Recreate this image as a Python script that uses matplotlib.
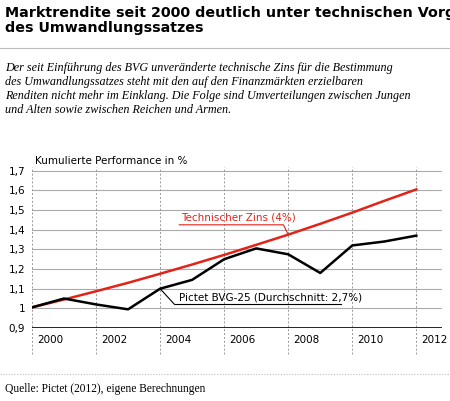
import matplotlib
matplotlib.use("Agg")
import matplotlib.pyplot as plt
from matplotlib.lines import Line2D

years = list(range(2000, 2013))
pictet = [1.005, 1.05, 1.02, 0.995, 1.10, 1.145, 1.25, 1.305, 1.275, 1.18, 1.32, 1.34, 1.37]
techzins = [1.005, 1.045, 1.087, 1.13, 1.176, 1.223, 1.272, 1.323, 1.375, 1.43, 1.487, 1.547, 1.605]
yticks = [0.9, 1.0, 1.1, 1.2, 1.3, 1.4, 1.5, 1.6, 1.7]
ytick_labels = ["0,9", "1", "1,1", "1,2", "1,3", "1,4", "1,5", "1,6", "1,7"]
xticks = [2000, 2002, 2004, 2006, 2008, 2010, 2012]

NARROW = ["DejaVu Sans"]
SERIF = ["Liberation Serif", "DejaVu Serif"]

fig = plt.figure(figsize=(4.5, 4.01), dpi=100)
fig.patch.set_facecolor("white")

fig.text(0.012, 0.985, "Marktrendite seit 2000 deutlich unter technischen Vorgaben\ndes Umwandlungssatzes",
         family=NARROW, weight="bold", fontsize=10.3, va="top", ha="left", linespacing=1.1)
fig.add_artist(Line2D([0.0, 1.0], [0.88, 0.88], color="#bbbbbb", lw=0.8))
fig.text(0.012, 0.845,
         "Der seit Einführung des BVG unveränderte technische Zins für die Bestimmung\n"
         "des Umwandlungssatzes steht mit den auf den Finanzmärkten erzielbaren\n"
         "Renditen nicht mehr im Einklang. Die Folge sind Umverteilungen zwischen Jungen\n"
         "und Alten sowie zwischen Reichen und Armen.",
         family=SERIF, style="italic", fontsize=8.7, va="top", ha="left", linespacing=1.2)

ax = fig.add_axes([0.0711, 0.182, 0.911, 0.402])
ax.set_xlim(2000, 2012.8)
ax.set_ylim(0.9, 1.72)

for y in yticks[1:]:
    ax.axhline(y, color="#aaaaaa", lw=0.8, zorder=1)
ax.axhline(0.9, color="black", lw=1.2, zorder=3)
for x in xticks:
    ax.plot([x, x], [0.77, 1.72], color="#999999", lw=0.7, ls=(0, (2, 2)), clip_on=False, zorder=1)
    ax.text(x + 0.15, 0.84, str(x), family=NARROW, fontsize=7.5, ha="left", va="center")

ax.plot(years, techzins, color="#e2231a", lw=1.8, zorder=4)
ax.plot(years, pictet, color="black", lw=1.8, zorder=5)

ax.set_yticks(yticks)
ax.set_yticklabels(ytick_labels, family=NARROW, fontsize=7.5)
ax.set_xticks([])
ax.tick_params(axis="y", length=0, pad=5)
for s in ax.spines.values():
    s.set_visible(False)

ax.text(2000.1, 1.725, "Kumulierte Performance in %", family=NARROW, fontsize=7.5, ha="left", va="bottom")

# Annotations
ax.text(2004.65, 1.435, "Technischer Zins (4%)", color="#e2231a", family=NARROW, fontsize=7.5, ha="left", va="bottom")
ax.plot([2004.6, 2007.85, 2008.0], [1.425, 1.425, 1.375], color="#e2231a", lw=0.8, zorder=6)
ax.text(2004.6, 1.03, "Pictet BVG-25 (Durchschnitt: 2,7%)", color="black", family=NARROW, fontsize=7.5, ha="left", va="bottom")
ax.plot([2004.45, 2009.65], [1.02, 1.02], color="black", lw=0.8, zorder=6)
ax.plot([2004.0, 2004.45], [1.10, 1.02], color="black", lw=0.8, zorder=6)

fig.add_artist(Line2D([0.0, 1.0], [0.068, 0.068], color="#bbbbbb", lw=0.8, ls=(0, (1, 1.5))))
fig.text(0.012, 0.03, "Quelle: Pictet (2012), eigene Berechnungen", family=SERIF, fontsize=8.3, ha="left", va="center")

fig.savefig("out.png", dpi=100)
